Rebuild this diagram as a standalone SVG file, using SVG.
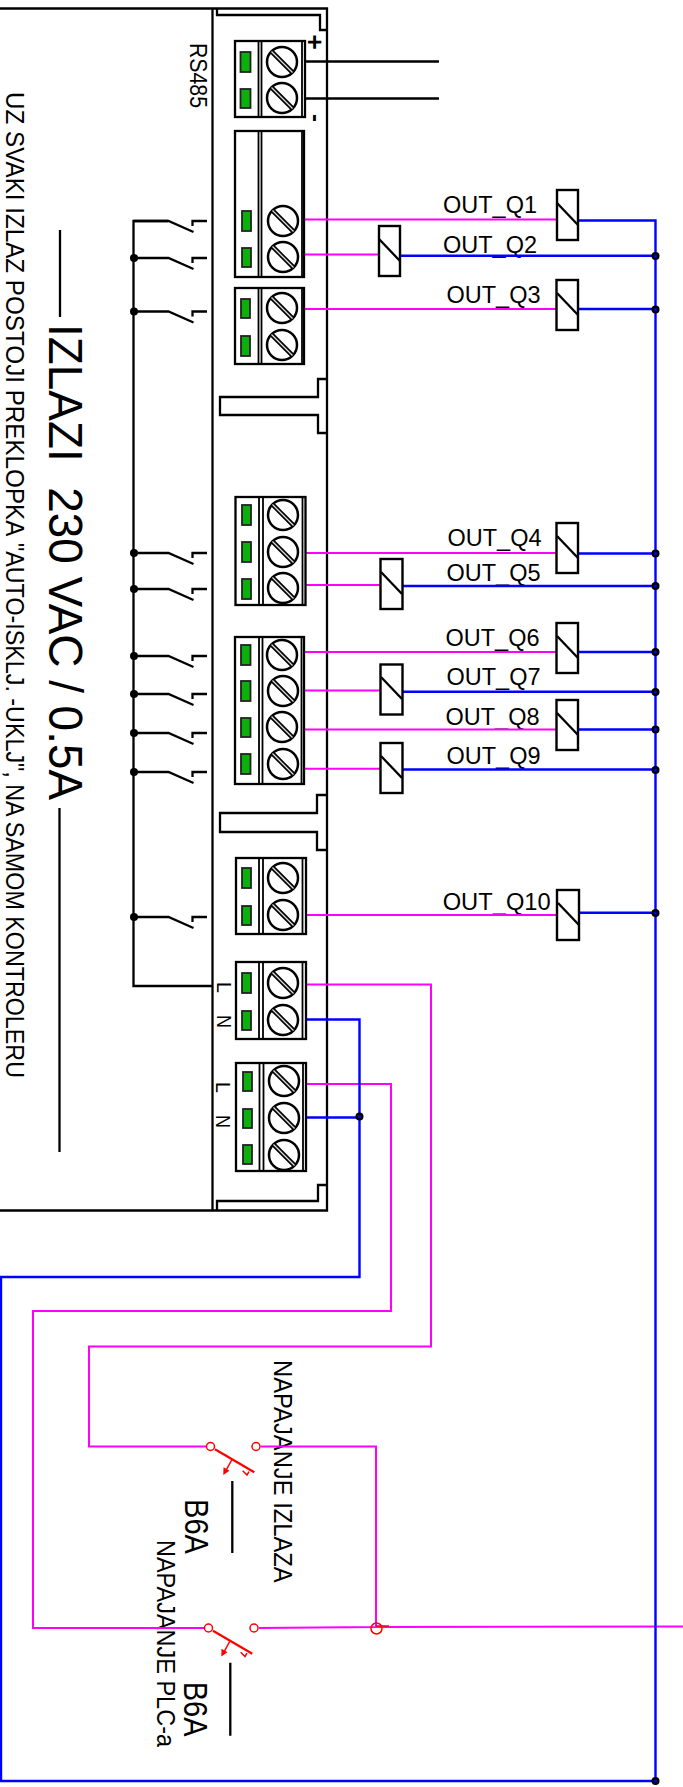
<svg xmlns="http://www.w3.org/2000/svg" width="683" height="1787" viewBox="0 0 683 1787">
<style>
text{font-family:"Liberation Sans",Arial,sans-serif;fill:#000}
.k{fill:none;stroke:#000;stroke-width:2.3}
.k1{fill:none;stroke:#000;stroke-width:1.8}
.m{fill:none;stroke:#ff00ff;stroke-width:2}
.b{fill:none;stroke:#0000ff;stroke-width:2.4}
.r{fill:none;stroke:#ff0000;stroke-width:1.5}
.rw{fill:#fff;stroke:#ff0000;stroke-width:1.5}
.blk{fill:#fff;stroke:#000;stroke-width:2.3}
.g{fill:#0cb00c;stroke:#222;stroke-width:1.8}
.coil{fill:#fff;stroke:#000;stroke-width:2.4}
.dot{fill:#000}
.q{font-size:24px}
</style>
<defs>
<g id="screw"><circle r="15" fill="#fff" stroke="#000" stroke-width="2.5"/><line x1="-10.5" y1="-10.5" x2="10.5" y2="10.5" stroke="#000" stroke-width="4.6"/><line x1="-10.5" y1="-10.5" x2="10.5" y2="10.5" stroke="#ddd" stroke-width="1.3"/></g>
<g id="sw"><path class="k" d="M0 0H35L60 11"/><path class="k" d="M73.500 0H59V5"/></g>
<g id="cb"><path class="r" style="stroke-width:2.2" d="M0 0L39.300 23"/><path class="r" d="M16.700 10.700L10.500 22"/><path d="M8.300 25.700L8.500 18L14.500 21.500Z" fill="#ff0000"/><path class="r" d="M27.700 21.400L32 25.700L34 22.400"/></g>
</defs>

<g id="controller">
<path class="k" d="M0 8.500H327V1210.500H0"/>
<path class="k" d="M212.500 8.500V1210.500"/>
<path class="k" d="M217 9V15H320V30H327"/>
<path class="k" d="M327 379H318V397H220V415H318V433H327"/>
<path class="k" d="M327 795H317V813H220V832H317V850H327"/>
<path class="k" d="M327 1185H318V1201H217V1210"/>
</g>

<g id="texts">
<text transform="translate(48.500 324) rotate(90)" font-size="47.500" textLength="476" lengthAdjust="spacingAndGlyphs" xml:space="preserve">IZLAZI  230 VAC / 0.5A</text>
<text transform="translate(6 92) rotate(90)" font-size="25"><tspan x="0" textLength="443" lengthAdjust="spacingAndGlyphs">UZ SVAKI IZLAZ POSTOJI PREKLOPKA</tspan> <tspan x="451" textLength="535" lengthAdjust="spacingAndGlyphs">"AUTO-ISKLJ. -UKLJ", NA SAMOM KONTROLERU</tspan></text>
<text transform="translate(190 43) rotate(90)" font-size="24" textLength="65" lengthAdjust="spacingAndGlyphs">RS485</text>
<text transform="translate(305.500 34.500) rotate(90)" font-size="26" font-weight="bold">+</text>
<text transform="translate(307.500 114) rotate(90)" font-size="24" font-weight="bold">-</text>
<text transform="translate(216.500 982) rotate(90)" font-size="21" textLength="11" lengthAdjust="spacingAndGlyphs">L</text>
<text transform="translate(216.500 1015) rotate(90)" font-size="21" textLength="13" lengthAdjust="spacingAndGlyphs">N</text>
<text transform="translate(216 1082) rotate(90)" font-size="21" textLength="11" lengthAdjust="spacingAndGlyphs">L</text>
<text transform="translate(216 1115) rotate(90)" font-size="21" textLength="13" lengthAdjust="spacingAndGlyphs">N</text>
<text transform="translate(185 1499) rotate(90)" font-size="33" textLength="55" lengthAdjust="spacingAndGlyphs">B6A</text>
<text transform="translate(183.500 1681.700) rotate(90)" font-size="33" textLength="55" lengthAdjust="spacingAndGlyphs">B6A</text>
<text transform="translate(274 1360) rotate(90)" font-size="25.500" textLength="222.700" lengthAdjust="spacingAndGlyphs">NAPAJANJE IZLAZA</text>
<text transform="translate(156.700 1540) rotate(90)" font-size="25.500" textLength="207" lengthAdjust="spacingAndGlyphs">NAPAJANJE PLC-a</text>
<text class="q" x="443" y="213" textLength="94" lengthAdjust="spacingAndGlyphs">OUT_Q1</text>
<text class="q" x="443" y="253" textLength="94" lengthAdjust="spacingAndGlyphs">OUT_Q2</text>
<text class="q" x="446.500" y="303" textLength="94" lengthAdjust="spacingAndGlyphs">OUT_Q3</text>
<text class="q" x="447.500" y="546" textLength="94" lengthAdjust="spacingAndGlyphs">OUT_Q4</text>
<text class="q" x="446.500" y="580.700" textLength="94" lengthAdjust="spacingAndGlyphs">OUT_Q5</text>
<text class="q" x="445.500" y="645.700" textLength="94" lengthAdjust="spacingAndGlyphs">OUT_Q6</text>
<text class="q" x="446.500" y="685" textLength="94" lengthAdjust="spacingAndGlyphs">OUT_Q7</text>
<text class="q" x="445.500" y="725" textLength="94" lengthAdjust="spacingAndGlyphs">OUT_Q8</text>
<text class="q" x="446.500" y="764" textLength="94" lengthAdjust="spacingAndGlyphs">OUT_Q9</text>
<text class="q" x="442.700" y="910" textLength="108" lengthAdjust="spacingAndGlyphs">OUT_Q10</text>
</g>

<g id="connectors">
<path class="k" d="M60 230V317M59.500 808V1152"/>
<path class="k" d="M232.300 1481V1553M230.300 1662.700V1735.700"/>
<path class="k" d="M305 61.500H439M305 98.500H439"/>
<path class="k" d="M168 221H133.500V986H212"/>
<path class="m" d="M305 219.500H558M302 254.500H378M304 309H558M306 553H558M303 585H381M305 652H558M303 690.500H381M305 729.500H558M303 768.700H381M305 915H557"/>
<path class="m" d="M305 984.500H431V1346.500H89V1446.500H206"/>
<path class="m" d="M298 1084H391V1311H33V1628H204"/>
<path class="m" d="M261 1446.500H376V1627M259 1628L376 1627L683 1626.500"/>
<path class="b" d="M578 220.500H655.500V1781M400 255.700H655M578 309H655M578 553.500H655M402 586H655M578 652H655M402 691.700H655M578 729.500H655M402 769.500H655M579 912.700H655"/>
<path class="b" d="M305 1019.500H359.500V1277H1V1781H655M305 1117.500H359"/>
<g class="dot">
<circle cx="655.500" cy="256" r="4"/><circle cx="655.500" cy="309.500" r="4"/><circle cx="655.500" cy="553.500" r="4"/><circle cx="655.500" cy="586" r="4"/><circle cx="655.500" cy="652" r="4"/><circle cx="655.500" cy="692" r="4"/><circle cx="655.500" cy="729.500" r="4"/><circle cx="655.500" cy="770" r="4"/><circle cx="655.500" cy="913" r="4"/><circle cx="655.500" cy="1781" r="4"/><circle cx="359.500" cy="1116.500" r="4"/>
<circle cx="134" cy="258" r="4"/><circle cx="134" cy="311.500" r="4"/><circle cx="134" cy="553" r="4"/><circle cx="134" cy="589" r="4"/><circle cx="134" cy="656" r="4"/><circle cx="134" cy="694" r="4"/><circle cx="134" cy="733" r="4"/><circle cx="134" cy="772" r="4"/><circle cx="134" cy="917" r="4"/>
</g>
<g fill="#0000ff"><circle cx="655.500" cy="256" r="1.500"/><circle cx="655.500" cy="309.500" r="1.500"/><circle cx="655.500" cy="553.500" r="1.500"/><circle cx="655.500" cy="586" r="1.500"/><circle cx="655.500" cy="652" r="1.500"/><circle cx="655.500" cy="692" r="1.500"/><circle cx="655.500" cy="729.500" r="1.500"/><circle cx="655.500" cy="770" r="1.500"/><circle cx="655.500" cy="913" r="1.500"/><circle cx="655.500" cy="1781" r="1.500"/><circle cx="359.500" cy="1116.500" r="1.500"/></g>
<circle class="r" cx="376.500" cy="1628.500" r="5.500"/><path class="r" d="M376 1626H389"/>
</g>

<g id="switches">
<use href="#sw" x="133.500" y="221"/><use href="#sw" x="133.500" y="258"/><use href="#sw" x="133.500" y="311.500"/><use href="#sw" x="133.500" y="553"/><use href="#sw" x="133.500" y="589"/><use href="#sw" x="133.500" y="656"/><use href="#sw" x="133.500" y="694"/><use href="#sw" x="133.500" y="733"/><use href="#sw" x="133.500" y="772"/><use href="#sw" x="133.500" y="917"/>
</g>

<g id="block-a"><rect class="blk" x="235" y="41" width="70" height="76"/><path class="k1" d="M258.500 41V117M261.500 41V117M302 41V117"/><rect class="g" x="240.500" y="52" width="10" height="20"/><rect class="g" x="240.500" y="89" width="10" height="19"/><use href="#screw" x="282" y="62"/><use href="#screw" x="282" y="98"/></g>
<g id="block-b"><rect class="blk" x="235" y="131" width="69" height="146"/><path class="k1" d="M258.500 131V277M261.500 131V277M302 131V277"/><rect class="g" x="242" y="211" width="9" height="20"/><rect class="g" x="242" y="248" width="9" height="19"/><use href="#screw" x="283" y="221"/><use href="#screw" x="283" y="257"/></g>
<g id="block-c"><rect class="blk" x="235" y="288" width="69" height="76"/><path class="k1" d="M258.500 288V364M261.500 288V364M302 288V364"/><rect class="g" x="241" y="299" width="9" height="19"/><rect class="g" x="241" y="336" width="9" height="20"/><use href="#screw" x="282" y="308"/><use href="#screw" x="282" y="345"/></g>
<g id="block-d"><rect class="blk" x="235.500" y="497" width="70" height="108"/><path class="k1" d="M259 497V605M263 497V605M302.500 497V605"/><rect class="g" x="242" y="505" width="9" height="20"/><rect class="g" x="242" y="542" width="9" height="20"/><rect class="g" x="242" y="579" width="9" height="20"/><use href="#screw" x="283" y="515"/><use href="#screw" x="283" y="552"/><use href="#screw" x="283" y="588"/></g>
<g id="block-e"><rect class="blk" x="235" y="637" width="69" height="147"/><path class="k1" d="M259 637V784M262.500 637V784M301.500 637V784"/><rect class="g" x="241" y="645" width="9.500" height="20"/><rect class="g" x="241" y="681" width="9.500" height="20"/><rect class="g" x="241" y="718" width="9.500" height="19"/><rect class="g" x="241" y="754" width="9.500" height="20"/><use href="#screw" x="282" y="655"/><use href="#screw" x="283" y="691"/><use href="#screw" x="282" y="727"/><use href="#screw" x="283" y="764"/></g>
<g id="block-f"><rect class="blk" x="236" y="858" width="70" height="76"/><path class="k1" d="M259 858V934M263 858V934M302.500 858V934"/><rect class="g" x="242" y="868" width="9" height="20"/><rect class="g" x="242" y="906" width="9" height="19"/><use href="#screw" x="283" y="878"/><use href="#screw" x="283" y="915"/></g>
<g id="block-g"><rect class="blk" x="236" y="962" width="70" height="77"/><path class="k1" d="M259 962V1039M263 962V1039M302.500 962V1039"/><rect class="g" x="242" y="973" width="9" height="20"/><rect class="g" x="242" y="1011" width="9" height="19"/><use href="#screw" x="283" y="983"/><use href="#screw" x="283" y="1020"/></g>
<g id="block-h"><rect class="blk" x="236" y="1063" width="70" height="108"/><path class="k1" d="M259.500 1063V1171M263.500 1063V1171M303 1063V1171"/><rect class="g" x="243" y="1072" width="9" height="19"/><rect class="g" x="243" y="1109" width="9" height="19"/><rect class="g" x="243" y="1145" width="9" height="19"/><use href="#screw" x="284" y="1081"/><use href="#screw" x="284" y="1118"/><use href="#screw" x="284" y="1155"/></g>

<g id="out-q1"><rect class="coil" x="557" y="190" width="21" height="50"/><path class="k" d="M557 203L578 225"/></g>
<g id="out-q2"><rect class="coil" x="379" y="226" width="21" height="50"/><path class="k" d="M379 239L400 261"/></g>
<g id="out-q3"><rect class="coil" x="556.500" y="280" width="21.500" height="50"/><path class="k" d="M557 293L578 315"/></g>
<g id="out-q4"><rect class="coil" x="556.500" y="523" width="21.500" height="50"/><path class="k" d="M557 536L578 558"/></g>
<g id="out-q5"><rect class="coil" x="380.500" y="559" width="22" height="50"/><path class="k" d="M381 572L402 594"/></g>
<g id="out-q6"><rect class="coil" x="556.500" y="623" width="21.500" height="50"/><path class="k" d="M557 636L578 658"/></g>
<g id="out-q7"><rect class="coil" x="380.500" y="664.500" width="22" height="50"/><path class="k" d="M381 677L402 699"/></g>
<g id="out-q8"><rect class="coil" x="556.500" y="700" width="21.500" height="50"/><path class="k" d="M557 713L578 735"/></g>
<g id="out-q9"><rect class="coil" x="380.500" y="743" width="22" height="50"/><path class="k" d="M381 756L402 778"/></g>
<g id="out-q10"><rect class="coil" x="557" y="890" width="22" height="50"/><path class="k" d="M558 903L579 925"/></g>

<g id="breaker-izlaza"><circle class="rw" cx="210.500" cy="1446.500" r="4"/><circle class="rw" cx="256" cy="1446.500" r="4"/><use href="#cb" x="215" y="1449.300"/></g>
<g id="breaker-plc"><circle class="rw" cx="208.500" cy="1628" r="4"/><circle class="rw" cx="254" cy="1628" r="4"/><use href="#cb" x="213" y="1630.800"/></g>
</svg>
